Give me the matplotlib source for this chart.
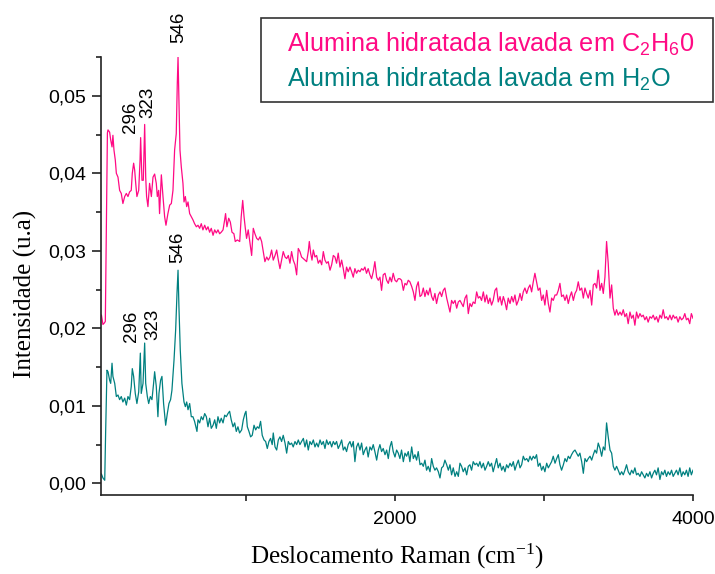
import matplotlib
matplotlib.use("Agg")
import matplotlib.pyplot as plt
from matplotlib.patches import Rectangle
import numpy as np

plt.rcParams['mathtext.default'] = 'regular'

# ---------------- data ----------------
pink_points = [
    (30, 0.0217), (40, 0.0205), (50, 0.0207), (56, 0.0209), (70, 0.0452), (74, 0.0456), (85, 0.0453), (92, 0.0443),
    (101, 0.0434), (107, 0.0449), (114, 0.0430), (123, 0.0417), (130, 0.0400), (141, 0.0395), (152, 0.0378),
    (163, 0.0374), (174, 0.0361), (186, 0.0370), (197, 0.0374), (208, 0.0370), (219, 0.0376), (230, 0.0378),
    (237, 0.0400), (246, 0.0413), (253, 0.0404), (260, 0.0387), (268, 0.0370), (280, 0.0378), (289, 0.0417),
    (293, 0.0446), (302, 0.0391), (311, 0.0391), (320, 0.0463), (327, 0.0395), (333, 0.0370), (342, 0.0357),
    (353, 0.0387), (365, 0.0370), (376, 0.0395), (387, 0.0399), (398, 0.0387), (405, 0.0370), (414, 0.0378),
    (420, 0.0348), (432, 0.0398), (443, 0.0370), (454, 0.0344), (463, 0.0333), (476, 0.0348), (488, 0.0359),
    (499, 0.0361), (510, 0.0378), (521, 0.0430), (532, 0.0451), (539, 0.0516), (544, 0.0550), (550, 0.0494),
    (557, 0.0430), (566, 0.0408), (577, 0.0387), (584, 0.0363), (593, 0.0370), (602, 0.0357), (611, 0.0363),
    (622, 0.0348), (633, 0.0344), (644, 0.0340), (655, 0.0335), (667, 0.0331), (678, 0.0333), (689, 0.0329),
    (700, 0.0335), (711, 0.0327), (723, 0.0333), (734, 0.0327), (745, 0.0331), (756, 0.0324), (767, 0.0329),
    (779, 0.0320), (790, 0.0327), (801, 0.0323), (812, 0.0327), (823, 0.0322), (834, 0.0324), (846, 0.0327),
    (857, 0.0340), (863, 0.0348), (872, 0.0331), (884, 0.0342), (895, 0.0337), (906, 0.0324), (919, 0.0322),
    (928, 0.0312), (942, 0.0314), (958, 0.0312), (968, 0.0344), (978, 0.0365), (987, 0.0344), (995, 0.0330),
    (1004, 0.0316), (1015, 0.0327), (1027, 0.0310), (1038, 0.0294), (1049, 0.0329), (1060, 0.0322), (1072, 0.0316),
    (1083, 0.0314), (1094, 0.0318), (1105, 0.0312), (1116, 0.0299), (1127, 0.0286), (1139, 0.0292), (1150, 0.0288),
    (1161, 0.0292), (1172, 0.0301), (1183, 0.0288), (1195, 0.0294), (1206, 0.0301), (1217, 0.0288), (1228, 0.0277),
    (1239, 0.0288), (1250, 0.0299), (1262, 0.0292), (1273, 0.0290), (1284, 0.0294), (1295, 0.0284), (1306, 0.0299),
    (1317, 0.0288), (1329, 0.0282), (1340, 0.0269), (1351, 0.0303), (1362, 0.0299), (1373, 0.0292), (1385, 0.0290),
    (1396, 0.0288), (1407, 0.0286), (1418, 0.0299), (1425, 0.0312), (1434, 0.0297), (1443, 0.0288), (1452, 0.0301),
    (1463, 0.0292), (1474, 0.0294), (1485, 0.0284), (1497, 0.0288), (1508, 0.0282), (1519, 0.0299), (1530, 0.0288),
    (1541, 0.0284), (1552, 0.0286), (1564, 0.0275), (1575, 0.0282), (1586, 0.0294), (1597, 0.0292), (1608, 0.0284),
    (1619, 0.0297), (1631, 0.0279), (1642, 0.0288), (1653, 0.0277), (1664, 0.0264), (1675, 0.0279), (1686, 0.0273),
    (1698, 0.0279), (1709, 0.0273), (1720, 0.0266), (1731, 0.0277), (1742, 0.0271), (1753, 0.0275), (1765, 0.0273),
    (1776, 0.0277), (1787, 0.0275), (1798, 0.0279), (1809, 0.0271), (1820, 0.0277), (1832, 0.0269), (1843, 0.0264),
    (1854, 0.0273), (1865, 0.0286), (1877, 0.0266), (1888, 0.0262), (1899, 0.0266), (1910, 0.0249), (1921, 0.0269),
    (1933, 0.0271), (1944, 0.0262), (1955, 0.0258), (1966, 0.0266), (1977, 0.0260), (1988, 0.0271), (2000, 0.0262),
    (2011, 0.0260), (2022, 0.0264), (2033, 0.0264), (2044, 0.0262), (2056, 0.0249), (2067, 0.0258), (2078, 0.0256),
    (2089, 0.0262), (2100, 0.0260), (2112, 0.0254), (2123, 0.0247), (2134, 0.0236), (2145, 0.0254), (2156, 0.0260),
    (2168, 0.0241), (2179, 0.0243), (2190, 0.0252), (2201, 0.0241), (2212, 0.0249), (2223, 0.0243), (2235, 0.0252),
    (2246, 0.0241), (2257, 0.0236), (2268, 0.0245), (2279, 0.0232), (2291, 0.0243), (2302, 0.0247), (2313, 0.0241),
    (2324, 0.0249), (2335, 0.0252), (2347, 0.0239), (2358, 0.0230), (2369, 0.0221), (2380, 0.0236), (2391, 0.0232),
    (2403, 0.0236), (2414, 0.0226), (2425, 0.0234), (2436, 0.0236), (2447, 0.0232), (2458, 0.0228), (2470, 0.0239),
    (2481, 0.0243), (2492, 0.0219), (2503, 0.0232), (2514, 0.0228), (2525, 0.0234), (2537, 0.0232), (2548, 0.0247),
    (2559, 0.0239), (2570, 0.0241), (2581, 0.0236), (2593, 0.0247), (2604, 0.0234), (2615, 0.0243), (2626, 0.0232),
    (2637, 0.0239), (2648, 0.0230), (2659, 0.0236), (2671, 0.0249), (2682, 0.0252), (2693, 0.0234), (2705, 0.0241),
    (2716, 0.0230), (2727, 0.0241), (2738, 0.0234), (2749, 0.0224), (2760, 0.0239), (2772, 0.0232), (2783, 0.0241),
    (2794, 0.0234), (2805, 0.0243), (2816, 0.0230), (2828, 0.0236), (2839, 0.0245), (2850, 0.0236), (2861, 0.0247),
    (2872, 0.0252), (2884, 0.0245), (2895, 0.0252), (2906, 0.0256), (2917, 0.0247), (2928, 0.0260), (2939, 0.0271),
    (2950, 0.0260), (2961, 0.0249), (2973, 0.0252), (2984, 0.0236), (2995, 0.0243), (3006, 0.0230), (3018, 0.0249),
    (3029, 0.0232), (3040, 0.0221), (3051, 0.0239), (3062, 0.0236), (3074, 0.0243), (3085, 0.0243), (3096, 0.0249),
    (3107, 0.0258), (3118, 0.0241), (3130, 0.0243), (3141, 0.0236), (3152, 0.0243), (3163, 0.0232), (3174, 0.0241),
    (3185, 0.0247), (3197, 0.0236), (3208, 0.0245), (3219, 0.0249), (3230, 0.0260), (3241, 0.0249), (3253, 0.0252),
    (3264, 0.0239), (3275, 0.0252), (3286, 0.0245), (3297, 0.0239), (3309, 0.0249), (3320, 0.0230), (3331, 0.0256),
    (3342, 0.0258), (3353, 0.0252), (3364, 0.0275), (3376, 0.0249), (3387, 0.0258), (3398, 0.0245), (3409, 0.0266),
    (3420, 0.0312), (3431, 0.0284), (3443, 0.0239), (3454, 0.0256), (3465, 0.0226), (3476, 0.0217), (3487, 0.0224),
    (3498, 0.0217), (3510, 0.0221), (3521, 0.0217), (3532, 0.0224), (3543, 0.0215), (3554, 0.0219), (3565, 0.0206),
    (3577, 0.0221), (3588, 0.0213), (3599, 0.0217), (3610, 0.0204), (3621, 0.0221), (3632, 0.0213), (3644, 0.0219),
    (3655, 0.0215), (3666, 0.0217), (3677, 0.0211), (3688, 0.0215), (3699, 0.0208), (3711, 0.0215), (3722, 0.0213),
    (3733, 0.0217), (3744, 0.0211), (3755, 0.0215), (3766, 0.0208), (3778, 0.0217), (3789, 0.0213), (3800, 0.0224),
    (3811, 0.0213), (3822, 0.0215), (3833, 0.0211), (3845, 0.0217), (3856, 0.0211), (3867, 0.0217), (3878, 0.0213),
    (3889, 0.0215), (3900, 0.0208), (3912, 0.0215), (3923, 0.0211), (3934, 0.0213), (3945, 0.0219), (3956, 0.0211),
    (3967, 0.0213), (3978, 0.0206), (3989, 0.0219), (4000, 0.0213),
]

teal_points = [
    (30, 0.0012), (40, 0.0007), (52, 0.0004), (58, 0.0065), (67, 0.0146), (74, 0.0144), (85, 0.0133), (92, 0.0129),
    (101, 0.0155), (107, 0.0138), (119, 0.0129), (130, 0.0112), (141, 0.0114), (152, 0.0108), (163, 0.0112),
    (174, 0.0105), (186, 0.0110), (197, 0.0101), (208, 0.0112), (219, 0.0108), (230, 0.0125), (237, 0.0148),
    (246, 0.0138), (257, 0.0116), (268, 0.0103), (280, 0.0118), (291, 0.0168), (297, 0.0116), (309, 0.0129),
    (320, 0.0181), (327, 0.0129), (338, 0.0112), (347, 0.0103), (358, 0.0112), (369, 0.0108), (380, 0.0129),
    (387, 0.0144), (398, 0.0125), (409, 0.0086), (416, 0.0116), (427, 0.0133), (436, 0.0138), (447, 0.0103),
    (461, 0.0075), (472, 0.0090), (483, 0.0103), (494, 0.0108), (503, 0.0120), (517, 0.0159), (528, 0.0198),
    (537, 0.0245), (544, 0.0275), (550, 0.0228), (559, 0.0172), (570, 0.0129), (584, 0.0105), (593, 0.0099),
    (602, 0.0105), (611, 0.0095), (622, 0.0103), (633, 0.0086), (644, 0.0086), (655, 0.0080), (671, 0.0067),
    (678, 0.0082), (689, 0.0078), (700, 0.0086), (711, 0.0082), (723, 0.0090), (734, 0.0086), (745, 0.0073),
    (756, 0.0084), (767, 0.0071), (779, 0.0075), (790, 0.0082), (801, 0.0071), (812, 0.0086), (823, 0.0078),
    (834, 0.0084), (846, 0.0078), (857, 0.0088), (868, 0.0086), (879, 0.0090), (890, 0.0093), (901, 0.0082),
    (913, 0.0073), (924, 0.0078), (935, 0.0067), (946, 0.0073), (957, 0.0065), (971, 0.0069), (982, 0.0082),
    (993, 0.0090), (1000, 0.0093), (1009, 0.0073), (1020, 0.0067), (1031, 0.0060), (1042, 0.0062), (1054, 0.0075),
    (1065, 0.0069), (1076, 0.0073), (1087, 0.0071), (1098, 0.0080), (1109, 0.0062), (1121, 0.0056), (1132, 0.0054),
    (1143, 0.0045), (1154, 0.0054), (1165, 0.0058), (1176, 0.0050), (1183, 0.0065), (1195, 0.0047), (1206, 0.0043),
    (1217, 0.0056), (1228, 0.0060), (1239, 0.0054), (1250, 0.0062), (1262, 0.0052), (1273, 0.0039), (1284, 0.0054),
    (1295, 0.0050), (1306, 0.0052), (1317, 0.0047), (1329, 0.0054), (1340, 0.0050), (1351, 0.0056), (1362, 0.0050),
    (1373, 0.0054), (1385, 0.0058), (1396, 0.0047), (1407, 0.0056), (1418, 0.0043), (1429, 0.0054), (1440, 0.0050),
    (1452, 0.0056), (1463, 0.0047), (1474, 0.0052), (1485, 0.0047), (1497, 0.0056), (1508, 0.0050), (1519, 0.0054),
    (1530, 0.0045), (1541, 0.0056), (1552, 0.0050), (1564, 0.0054), (1575, 0.0047), (1586, 0.0054), (1597, 0.0050),
    (1608, 0.0054), (1619, 0.0045), (1631, 0.0050), (1642, 0.0056), (1653, 0.0043), (1664, 0.0047), (1675, 0.0041),
    (1686, 0.0050), (1698, 0.0054), (1709, 0.0047), (1720, 0.0054), (1731, 0.0028), (1742, 0.0047), (1753, 0.0052),
    (1765, 0.0043), (1776, 0.0052), (1787, 0.0037), (1798, 0.0043), (1809, 0.0047), (1820, 0.0034), (1832, 0.0047),
    (1843, 0.0043), (1854, 0.0050), (1865, 0.0041), (1877, 0.0030), (1888, 0.0043), (1899, 0.0050), (1910, 0.0041),
    (1921, 0.0045), (1933, 0.0037), (1944, 0.0043), (1955, 0.0032), (1966, 0.0047), (1977, 0.0054), (1988, 0.0041),
    (2000, 0.0034), (2011, 0.0043), (2022, 0.0039), (2033, 0.0032), (2044, 0.0043), (2056, 0.0028), (2067, 0.0039),
    (2078, 0.0035), (2089, 0.0041), (2100, 0.0028), (2112, 0.0047), (2123, 0.0032), (2134, 0.0037), (2145, 0.0030),
    (2156, 0.0041), (2168, 0.0024), (2179, 0.0026), (2190, 0.0022), (2201, 0.0030), (2212, 0.0017), (2223, 0.0022),
    (2235, 0.0015), (2246, 0.0032), (2257, 0.0022), (2268, 0.0017), (2279, 0.0020), (2291, 0.0015), (2302, 0.0007),
    (2313, 0.0020), (2324, 0.0022), (2335, 0.0030), (2347, 0.0024), (2358, 0.0017), (2369, 0.0024), (2380, 0.0011),
    (2391, 0.0020), (2403, 0.0009), (2414, 0.0015), (2425, 0.0009), (2436, 0.0026), (2447, 0.0022), (2458, 0.0015),
    (2470, 0.0020), (2481, 0.0011), (2492, 0.0022), (2503, 0.0024), (2514, 0.0017), (2525, 0.0028), (2537, 0.0024),
    (2548, 0.0026), (2559, 0.0022), (2570, 0.0028), (2581, 0.0020), (2593, 0.0026), (2604, 0.0017), (2615, 0.0022),
    (2626, 0.0028), (2637, 0.0022), (2648, 0.0026), (2659, 0.0015), (2671, 0.0024), (2682, 0.0032), (2693, 0.0020),
    (2705, 0.0026), (2716, 0.0017), (2727, 0.0022), (2738, 0.0015), (2749, 0.0024), (2760, 0.0020), (2772, 0.0026),
    (2783, 0.0022), (2794, 0.0028), (2805, 0.0017), (2816, 0.0024), (2828, 0.0030), (2839, 0.0020), (2850, 0.0024),
    (2861, 0.0035), (2872, 0.0030), (2884, 0.0032), (2895, 0.0028), (2906, 0.0035), (2917, 0.0030), (2928, 0.0035),
    (2939, 0.0032), (2950, 0.0037), (2961, 0.0022), (2973, 0.0026), (2984, 0.0017), (2995, 0.0022), (3006, 0.0015),
    (3018, 0.0026), (3029, 0.0020), (3040, 0.0024), (3051, 0.0028), (3062, 0.0035), (3074, 0.0026), (3085, 0.0032),
    (3096, 0.0037), (3107, 0.0024), (3118, 0.0017), (3130, 0.0024), (3141, 0.0032), (3152, 0.0028), (3163, 0.0035),
    (3174, 0.0032), (3185, 0.0037), (3197, 0.0041), (3208, 0.0043), (3219, 0.0039), (3230, 0.0035), (3241, 0.0039),
    (3253, 0.0028), (3264, 0.0013), (3275, 0.0032), (3286, 0.0028), (3297, 0.0032), (3309, 0.0035), (3320, 0.0030),
    (3331, 0.0037), (3342, 0.0043), (3353, 0.0039), (3364, 0.0052), (3376, 0.0045), (3387, 0.0035), (3398, 0.0047),
    (3409, 0.0043), (3420, 0.0078), (3431, 0.0060), (3443, 0.0043), (3454, 0.0039), (3465, 0.0022), (3476, 0.0017),
    (3487, 0.0022), (3498, 0.0017), (3510, 0.0011), (3521, 0.0015), (3532, 0.0011), (3543, 0.0017), (3554, 0.0024),
    (3565, 0.0015), (3577, 0.0011), (3588, 0.0017), (3599, 0.0013), (3610, 0.0020), (3621, 0.0011), (3632, 0.0013),
    (3644, 0.0009), (3655, 0.0015), (3666, 0.0011), (3677, 0.0007), (3688, 0.0013), (3699, 0.0009), (3711, 0.0015),
    (3722, 0.0007), (3733, 0.0013), (3744, 0.0017), (3755, 0.0011), (3766, 0.0020), (3778, 0.0005), (3789, 0.0015),
    (3800, 0.0011), (3811, 0.0017), (3822, 0.0009), (3833, 0.0015), (3845, 0.0011), (3856, 0.0017), (3867, 0.0009),
    (3878, 0.0013), (3889, 0.0017), (3900, 0.0011), (3912, 0.0020), (3923, 0.0009), (3934, 0.0015), (3945, 0.0011),
    (3956, 0.0017), (3967, 0.0009), (3978, 0.0020), (3989, 0.0011), (4000, 0.0017),
]

series_labels = ["Alumina hidratada lavada em C$_2$H$_6$0",
                 "Alumina hidratada lavada em H$_2$O"]

peak_labels = ["296", "323", "546"]
pink_peak_anchor = [(228, 0.0452), (342, 0.0471), (550, 0.0568)]
teal_peak_anchor = [(235, 0.0182), (376, 0.0185), (544, 0.0284)]

y_ticks = [0.00, 0.01, 0.02, 0.03, 0.04, 0.05]
y_tick_labels = ["0,00", "0,01", "0,02", "0,03", "0,04", "0,05"]
y_minor = [0.005, 0.015, 0.025, 0.035, 0.045, 0.055]
x_ticks = [2000, 4000]
x_tick_labels = ["2000", "4000"]
x_minor = [1000, 3000]

# ---------------- drawing ----------------
PINK = '#FF0A84'
TEAL = '#008080'
SANS = 'Liberation Sans'
SERIF = 'Liberation Serif'

pink_x, pink_y = zip(*pink_points)
teal_x, teal_y = zip(*teal_points)

W, H = 715, 574
fig = plt.figure(figsize=(W / 100, H / 100), dpi=100)
ax = fig.add_axes([101 / W, 1 - 495 / H, 592 / W, 438 / H])

l1, = ax.plot(pink_x, pink_y, color=PINK, lw=0.9)
l2, = ax.plot(teal_x, teal_y, color=TEAL, lw=0.9)

ax.set_xlim(27, 4000)
ax.set_ylim(-0.0015, 0.055)

for s in ('top', 'right'):
    ax.spines[s].set_visible(False)
for s in ('left', 'bottom'):
    ax.spines[s].set_linewidth(1.2)
    ax.spines[s].set_color('#222222')

ax.set_yticks(y_ticks)
ax.set_yticklabels(y_tick_labels, fontfamily=SANS, fontsize=14)
ax.set_yticks(y_minor, minor=True)
ax.set_xticks(x_ticks)
ax.set_xticklabels(x_tick_labels, fontfamily=SANS, fontsize=14)
ax.set_xticks(x_minor, minor=True)
ax.tick_params(axis='y', which='major', direction='out', length=6.5, width=1.2, pad=4, color='#222222')
ax.tick_params(axis='y', which='minor', direction='out', length=3.5, width=1.2, color='#222222')
ax.tick_params(axis='x', which='major', direction='out', length=4.5, width=1.2, pad=7, color='#222222')
ax.tick_params(axis='x', which='minor', direction='out', length=4.5, width=1.2, color='#222222')

ax.set_ylabel("Intensidade (u.a)", fontfamily=SERIF, fontsize=18)
ax.yaxis.set_label_coords(-0.108, 0.46)
ax.set_xlabel("Deslocamento Raman (cm$^{-1}$)", fontfamily=SERIF, fontsize=18)
ax.xaxis.set_label_coords(0.5, -0.108)

for lab, (x, y) in zip(peak_labels, pink_peak_anchor):
    ax.text(x, y, lab, rotation=90, ha='center', va='bottom', fontfamily=SANS, fontsize=13.5, clip_on=False)
for lab, (x, y) in zip(peak_labels, teal_peak_anchor):
    ax.text(x, y, lab, rotation=90, ha='center', va='bottom', fontfamily=SANS, fontsize=13.5, clip_on=False)

# legend text (no frame) + separate box matching the reference frame
leg = ax.legend([l1, l2], series_labels, loc='upper left',
                bbox_to_anchor=(287 / W, 1 - 31 / H), bbox_transform=fig.transFigure,
                handlelength=0, handletextpad=0, labelcolor=[PINK, TEAL],
                prop={'family': SANS, 'size': 18.2}, frameon=False,
                borderpad=0, labelspacing=0.3, borderaxespad=0)
for h in leg.legend_handles:
    h.set_visible(False)
fig.patches.append(Rectangle((261 / W, 1 - 102 / H), (713 - 261) / W, (102 - 18) / H,
                             transform=fig.transFigure, fill=False,
                             edgecolor='#333333', linewidth=1.2))

fig.savefig("out.png", dpi=100)
